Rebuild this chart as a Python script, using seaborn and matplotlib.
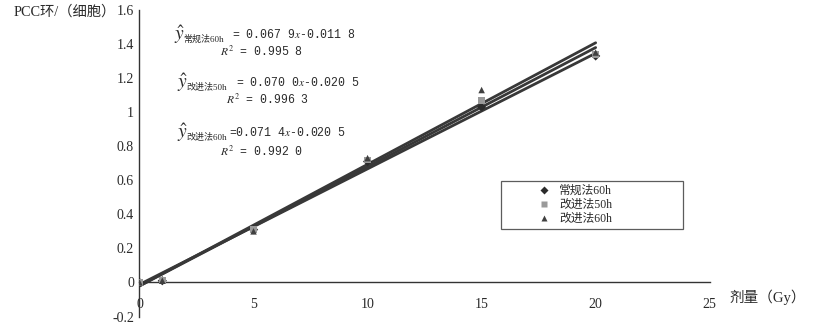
import matplotlib
matplotlib.use("Agg")
import matplotlib.pyplot as plt
import seaborn as sns
import pandas as pd

# ---- data ----
dose = [0, 1, 5, 10, 15, 20]
series_names = ["常规法60h", "改进法50h", "改进法60h"]
conv60 = [0.00, 0.01, 0.31, 0.71, 1.03, 1.33]
imp50 = [0.00, 0.01, 0.31, 0.72, 1.07, 1.34]
imp60 = [0.00, 0.01, 0.30, 0.73, 1.13, 1.35]
slopes = [0.0679, 0.0700, 0.0714]
intercepts = [-0.0118, -0.0205, -0.0205]
eq_texts = ["= 0.067 9$x$-0.011 8", "= 0.070 0$x$-0.020 5", "=0.071 4$x$-0.020 5"]
r2_texts = ["0.995 8", "0.996 3", "0.992 0"]
x_ticks = [0, 5, 10, 15, 20, 25]
y_ticks = [-0.2, 0, 0.2, 0.4, 0.6, 0.8, 1.0, 1.2, 1.4, 1.6]
y_tick_labels = ["-0.2", "0", "0.2", "0.4", "0.6", "0.8", "1", "1.2", "1.4", "1.6"]
fit_x = [0, 20]

sns.set_style("white")
plt.rcParams["font.family"] = ["Liberation Serif", "Noto Sans CJK SC"]
plt.rcParams["mathtext.fontset"] = "stix"
plt.rcParams["axes.unicode_minus"] = False

TXT = "#2a2a2a"
W, H = 829, 334
fig = plt.figure(figsize=(W / 100, H / 100), dpi=100)
ax = fig.add_axes([139.5 / W, 1 - 316.5 / H, (709.7 - 139.5) / W, (316.5 - 10) / H])

pts = pd.DataFrame({
    "dose": dose * 3,
    "val": conv60 + imp50 + imp60,
    "series": [s for s in series_names for _ in dose],
})
fit = pd.DataFrame({
    "dose": fit_x * 3,
    "val": [slopes[i] * x + intercepts[i] for i in range(3) for x in fit_x],
    "series": [s for s in series_names for _ in fit_x],
})

line_col = "#383838"
sns.lineplot(data=fit, x="dose", y="val", hue="series",
             palette={s: line_col for s in series_names},
             linewidth=2.0, legend=False, ax=ax, zorder=2)

palette = {"常规法60h": "#2b2b2b", "改进法50h": "#9a9a9a", "改进法60h": "#404040"}
markers = {"常规法60h": "D", "改进法50h": "s", "改进法60h": "^"}
sns.scatterplot(data=pts, x="dose", y="val", hue="series", style="series",
                palette=palette, markers=markers, s=22, edgecolor="none",
                ax=ax, zorder=3)

ax.set_xlim(0, 25)
ax.set_ylim(-0.2, 1.6)
ax.set_xticks(x_ticks)
ax.set_xticklabels([str(t) for t in x_ticks])
ax.set_yticks(y_ticks)
ax.set_yticklabels(y_tick_labels)
ax.set_xlabel("")
ax.set_ylabel("")

for s in ["top", "right"]:
    ax.spines[s].set_visible(False)
ax.spines["bottom"].set_position(("data", 0))
ax.spines["left"].set_color("#333333")
ax.spines["bottom"].set_color("#333333")
ax.spines["left"].set_linewidth(1.0)
ax.spines["bottom"].set_linewidth(1.0)

ax.tick_params(axis="x", direction="in", length=4, pad=11, labelsize=10,
               colors="#333333", labelcolor=TXT)
ax.tick_params(axis="y", direction="out", length=3, pad=1, labelsize=10,
               colors="#333333", labelcolor=TXT)

# axis titles
fig.text(116 / W, 1 - 12 / H, "PCC环/（细胞）", ha="right", va="center",
         fontsize=10.3, color=TXT)
fig.text(730 / W, 1 - 297 / H, "剂量（Gy）", ha="left", va="center",
         fontsize=10.5, color=TXT)

# regression equations
eq_y = [35, 83, 133]
r2_y = [52, 100, 152]
yhat_x = [174, 177, 177]
eq_x = [232, 236, 229]
r2_x = [220, 226, 220]
for i in range(3):
    fig.text(yhat_x[i] / W, 1 - eq_y[i] / H, r"$\hat{y}$", ha="left",
             va="center", fontsize=14, color=TXT)
    fig.text((yhat_x[i] + 9) / W, 1 - (eq_y[i] + 4) / H, series_names[i],
             ha="left", va="center", fontsize=6.5, color=TXT,
             family=["Liberation Serif", "Noto Sans CJK SC"])
    fig.text(eq_x[i] / W, 1 - eq_y[i] / H, eq_texts[i], ha="left",
             va="center", fontsize=8.3, color=TXT, family="Liberation Mono")
    fig.text(r2_x[i] / W, 1 - r2_y[i] / H, "$R^2$ = " + r2_texts[i],
             ha="left", va="center", fontsize=8.3, color=TXT,
             family="Liberation Mono")

# legend
handles, labels = ax.get_legend_handles_labels()
leg = ax.legend(handles, labels, loc="upper left",
                bbox_to_anchor=(501 / W, 1 - 184 / H, (683 - 501) / W, 0.01),
                bbox_transform=fig.transFigure, mode="expand",
                frameon=True, fancybox=False, fontsize=8.5,
                handlelength=6.6, handletextpad=-2.0, borderpad=0.35,
                labelspacing=0.18, borderaxespad=0, markerscale=0.8)
leg.get_frame().set_edgecolor("#333333")
leg.get_frame().set_linewidth(0.9)
for t in leg.get_texts():
    t.set_color(TXT)

fig.savefig("out.png", dpi=100, facecolor="white")
